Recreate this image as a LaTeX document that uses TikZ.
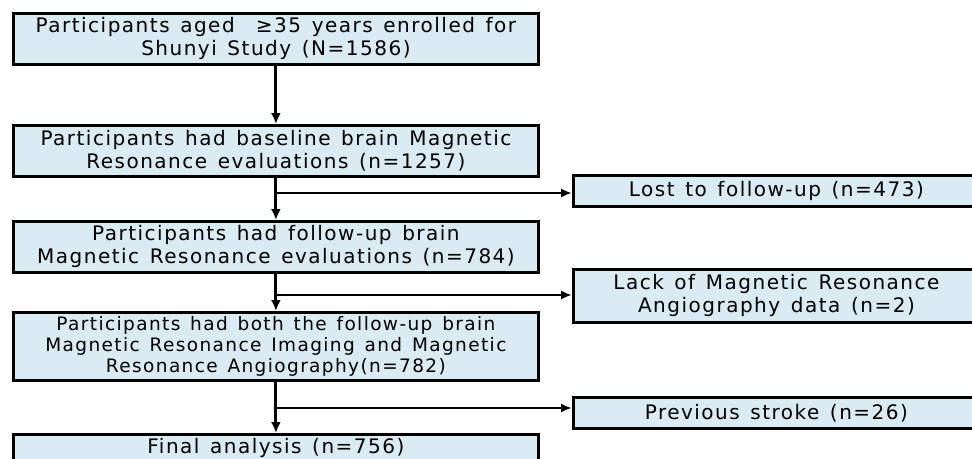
\documentclass[tikz,border=0pt]{standalone}
\usepackage{fontspec}
\setmainfont{DejaVu Sans}
\newfontfamily\flowfont[LetterSpace=7.5,WordSpace=1.35]{DejaVu Sans}
\usetikzlibrary{arrows.meta,positioning}
\definecolor{boxblue}{RGB}{219,235,243}

\begin{document}
\begin{tikzpicture}[x=1pt,y=-1pt,
  stage/.style={draw, line width=2.8pt, fill=boxblue, minimum width=525pt, minimum height=51pt,
    inner sep=0pt, anchor=north west, align=center, font=\flowfont\fontsize{20}{23}\selectfont},
  excl/.style={stage, minimum width=406pt},
  flow/.style={line width=3pt, -{Latex[length=11pt,width=10pt]}},
  branch/.style={line width=2.4pt, -{Latex[length=11pt,width=9pt]}}]
        \clip (0,0) rectangle (972,458);

        \node[stage] (enrol) at (12,12) {Participants aged \ ≥35 years enrolled for\\Shunyi Study (N=1586)};
        \node[stage] (base) at (12,124) {Participants had baseline brain Magnetic\\Resonance evaluations (n=1257)};
        \node[stage] (follow) at (12,220) {Participants had follow-up brain\\Magnetic Resonance evaluations (n=784)};
        \node[stage, minimum height=68pt, font=\flowfont\fontsize{18.5}{21}\selectfont] (both) at (12,311)
          {Participants had both the follow-up brain\\Magnetic Resonance Imaging and Magnetic\\Resonance Angiography(n=782)};
        \node[stage, minimum height=28pt] (final) at (12,433) {Final analysis (n=756)};

        \node[excl, minimum height=31pt] (lost) at (572,174) {Lost to follow-up (n=473)};
        \node[excl, minimum height=53pt] (lack) at (572,268) {Lack of Magnetic Resonance\\Angiography data (n=2)};
        \node[excl, minimum height=31pt] (prev) at (572,396) {Previous stroke (n=26)};

        \coordinate (split1) at (274,193);
        \coordinate (split2) at (274,295);
        \coordinate (split3) at (274,408);

        \draw[flow] (enrol) -- (base);
        \draw[flow] (base) -- (follow);
        \draw[flow] (follow) -- (both);
        \draw[flow] (both) -- (final);
        \draw[branch] (split1) -- (split1 -| lost.west);
        \draw[branch] (split2) -- (split2 -| lack.west);
        \draw[branch] (split3) -- (split3 -| prev.west);
\end{tikzpicture}
\end{document}
